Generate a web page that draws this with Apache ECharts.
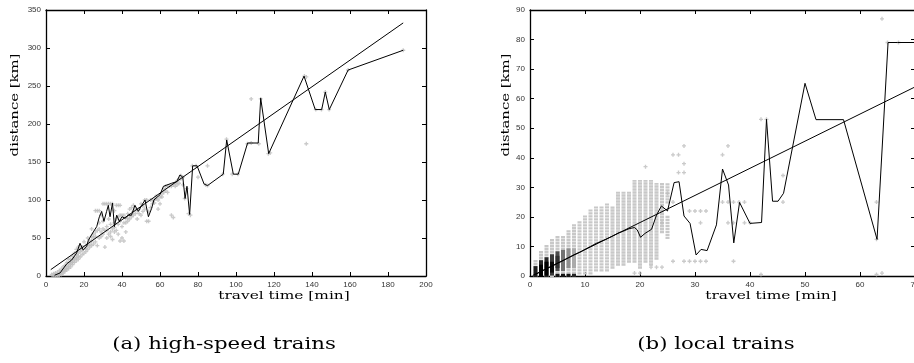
<!DOCTYPE html>
<html><head><meta charset="utf-8">
<script src="https://cdn.jsdelivr.net/npm/echarts@6/dist/echarts.min.js"></script>
<style>html,body{margin:0;padding:0;background:#fff;overflow:hidden}#c{width:914px;height:363px}</style>
</head><body><div id="c"></div>
<script>
// ---------- axis ranges [min, max, interval] ----------
const hsXRange = [0, 200, 20];
const hsYRange = [0, 350, 50];
const locXRange = [0, 70, 10];
const locYRange = [0, 90, 10];

// ---------- (a) high-speed trains ----------
// individual trips: [travel time min, distance km]
const hsTrips = [
[3,2],[4,0],[4,3],[5,1],[5,4],[6,0],[6,2],[6,5],[7,1],[7,3],[7,7],[8,2],[8,5],[8,9],[9,4],[9,6],[9,8],[9,12],
[10,6],[10,8],[10,10],[10,14],[11,8],[11,10],[11,13],[11,18],[12,10],[12,13],[12,16],[12,22],[13,12],[13,16],[13,18],[13,22],[14,15],
[14,18],[14,20],[14,26],[15,18],[15,22],[15,24],[15,30],[16,20],[16,24],[16,28],[16,35],[17,22],[17,26],[17,30],[17,38],[18,25],[18,32],
[18,36],[18,40],[19,28],[19,34],[19,38],[20,30],[20,38],[20,45],[21,32],[21,36],[21,40],[22,35],[22,40],[22,42],[22,50],[23,38],[23,42],[23,46],
[24,40],[24,46],[24,52],[24,62],[25,42],[25,50],[25,55],[26,45],[26,52],[26,58],[26,86],[27,40],[27,60],[27,86],[28,50],[28,62],[28,70],
[28,86],[29,52],[29,58],[29,80],[30,55],[30,62],[30,72],[30,95],[31,38],[31,60],[31,95],[32,50],[32,60],[32,65],[32,95],
[33,55],[33,75],[33,95],[34,52],[34,58],[34,68],[34,95],[35,48],[35,62],[35,95],[36,58],[36,64],[36,70],[36,86],[37,60],
[37,75],[37,93],[38,55],[38,68],[38,78],[38,93],[39,46],[39,72],[39,80],[39,93],[40,50],[40,65],[40,80],[41,46],[41,70],[41,80],
[42,58],[42,70],[42,76],[43,72],[43,76],[43,82],[44,75],[44,80],[44,88],[45,78],[45,90],[46,80],[46,85],[46,93],[47,82],[47,88],[48,75],[48,86],
[49,82],[49,88],[50,80],[50,95],[51,85],[51,92],[52,88],[52,100],[53,72],[53,100],[54,72],[54,85],[55,90],[55,100],[56,95],[56,100],
[57,96],[57,100],[58,102],[58,105],[59,88],[59,100],[60,95],[60,104],[61,104],[61,108],[62,110],[62,115],[63,112],[63,118],[64,110],[64,118],[65,118],[66,80],[66,118],[67,77],
[67,120],[68,118],[68,122],[69,120],[69,125],[70,122],[70,128],[71,128],[71,132],[72,120],[72,130],[73,102],[74,115],[75,82],[76,80],[77,145],
[79,145],[80,130],[85,145],[84,120],[85,119],[93,134],[95,180],[98,134],[101,134],[106,174],[108,233],
[108,175],[112,174],[113,233],[117,161],[118,162],[136,263],[137,174],[137,262],[142,219],[145,219],
[147,242],[149,219],[159,271],[188,297]
];
// mean distance per travel time
const hsMean = [
[4.5,1],[7.4,4],[10.9,16],[13.5,21],[16.1,30],[17.9,43],[19.6,34],[21.4,39],[22.3,47],[24.9,58],[26.7,65],
[28.1,78],[29.3,85],[30.5,72],[31.9,85],[32.8,93],[33.7,78],[35,96],[36,65],[37.2,80],[38.6,72],[40,78],
[41.6,76],[43.3,80],[45,80],[46.8,93],[48.6,85],[50.4,93],[52.1,100],[53.9,78],[55.6,89],[56.8,100],
[60,107],[61.8,118],[66.1,122],[68.8,124],[70.5,133],[72,130],[73.2,102],[74.2,118],[75.6,81],[77.2,145],
[79.5,145],[83.2,121],[85,119],[93.3,134],[95.1,179],[98.6,134],[101.2,134],[106.1,175],[108.2,175],
[111.7,175],[113,234],[117.2,161],[135.8,263],[141.7,219],[145.1,219],[147,242],[149.1,219],[159,271],[188,297]
];
// linear fit
const hsFit = [[2.5,8.4],[188,333]];

// ---------- (b) local trains ----------
// columns of trips per travel time: [min, lowest km, highest km]
const locColumns = [
[1,0,5],[2,0,8],[3,0,10],[4,0,12],[5,0,13],[6,0,13],[7,0,15],[8,0,17],[9,1,18],[10,1,20],[11,1,22],
[12,2,23],[13,2,23],[14,2,24],[15,3,23],[16,4,28],[17,4,28],[18,5,28],[19,5,32],[20,3,32],[21,5,32],
[22,4,32],[23,6,31],[24,15,31],[25,25,31],[25,13,20]
];
// high-density cores: [min, lowest km, highest km, relative density 0..1]
const locDense = [
[1,0,3,0.85],[2,0,5,0.8],[2,0,3.5,1],[3,0,6,0.8],[3,0.5,4.5,1],[4,0.5,7,0.7],[4,1.5,4.5,0.95],
[5,2,8,0.6],[5,3,6.5,0.75],[6,2,8.5,0.4],[7,3,9,0.25],[8,3,9,0.1],
[5,0,0.4,0.9],[6,0,0.4,0.9],[7,0,0.4,0.9],[8,0,0.4,0.8]
];
// isolated trips
const locTrips = [
[19,1],[20,1],[22,3],[23,3],[24,3],[21,37],[24,22],[24,18],[25,28],[26,41],[26,5],[26,25],[27,35],[27,41],
[28,44],[28,38],[28,35],[28,5],[29,5],[29,22],[30,5],[30,22],[31,5],[31,18],[31,22],[32,5],[32,22],
[35,41],[35,25],[36,44],[36,25],[36,18],[37,25],[37,18],[37,5],[38,25],[39,25],[39,18],[40,18],[42,53],
[42,0.5],[43,53],[46,34],[46,25],[63,25],[63,0.5],[64,1],[63,12.4],[64,87],[65,79],[67,79]
];
const locMean = [
[1,0.5],[2,1.5],[3,2.5],[4,3.3],[5,4.3],[6,5.2],[7,6.2],[8,7.2],[9,8],[10,9],[11,10],[12,11],[13,11.8],
[14,12.6],[15,13.5],[16,14.5],[17,15.2],[18,16],[19,16.4],[19.5,15.6],[20.1,13.1],[20.9,14.4],[22.1,15.8],
[23,20.6],[23.9,23.7],[25,22],[26.2,31.6],[27.1,31.9],[28,20.3],[29.1,17.8],[30.2,7.1],[31.1,9],[32.2,8.6],
[33.9,17.3],[35,36.2],[36.1,30.8],[37.05,11.2],[38.1,24.9],[40,17.8],[42.1,18.1],[43,53],[44.1,25.3],
[45.1,25.3],[46.1,28],[50,65.2],[52,52.9],[57,52.9],[63.1,12.4],[65.1,79],[66.8,79],[72,79]
];
const locFit = [[0.5,0.2],[72,65.8]];

const captions = ['(a) high-speed trains', '(b) local trains'];
const xTitle = 'travel time [min]';
const yTitle = 'distance [km]';

// ---------- styling ----------
const lblFont = {fontFamily:'Liberation Sans', fontSize:8, color:'#333'};
const PLUS = 'path://M1,0h1v1h1v1h-1v1h-1v-1h-1v-1h1z';
const GRAY = '#bdbdbd';

function axisPair(range, gridIndex, isX) {
  const base = {
    gridIndex, type:'value', min:range[0], max:range[1], interval:range[2],
    axisLine:{show:true, onZero:false, lineStyle:{color:'#000', width:1.3}},
    axisTick:{show:true, inside:true, length:4, lineStyle:{color:'#000', width:1}},
    splitLine:{show:false}
  };
  const main = Object.assign({}, base, {
    position: isX ? 'bottom' : 'left',
    axisLabel: Object.assign({show:true, margin:5}, lblFont)
  });
  const mirror = Object.assign({}, base, {
    position: isX ? 'top' : 'right',
    axisLabel:{show:false}
  });
  return [main, mirror];
}

const chart = echarts.init(document.getElementById('c'), null, {renderer:'canvas'});

const hsX = axisPair(hsXRange, 0, true), hsY = axisPair(hsYRange, 0, false);
const lcX = axisPair(locXRange, 1, true), lcY = axisPair(locYRange, 1, false);

function colRender(params, api) {
  const t = api.value(0), lo = api.value(1), hi = api.value(2);
  const p1 = api.coord([t, lo]), p2 = api.coord([t, hi]);
  return {type:'line', shape:{x1:p1[0], y1:p1[1]+1.5, x2:p2[0], y2:p2[1]-1.5},
          style:{stroke:'#c8c8c8', lineWidth:4, lineDash:[2.4,0.6]}};
}
function denseRender(params, api) {
  const t = api.value(0), lo = api.value(1), hi = api.value(2), dens = api.value(3);
  const p1 = api.coord([t, lo]), p2 = api.coord([t, hi]);
  const g = Math.round(190 * (1 - dens));
  return {type:'line', shape:{x1:p1[0], y1:p1[1]+1, x2:p2[0], y2:p2[1]-1},
          style:{stroke:'rgb('+g+','+g+','+g+')', lineWidth:4}};
}

const serifTitle = {fontFamily:'DejaVu Serif', fontSize:11, fill:'#000'};

chart.setOption({
  animation:false,
  backgroundColor:'#fff',
  grid:[
    {left:46, top:10, width:380, height:266, outerBoundsMode:'none', containLabel:false},
    {left:530, top:10, width:385, height:266, outerBoundsMode:'none', containLabel:false}
  ],
  xAxis:[hsX[0], hsX[1], lcX[0], lcX[1]],
  yAxis:[hsY[0], hsY[1], lcY[0], lcY[1]],
  series:[
    {type:'scatter', xAxisIndex:0, yAxisIndex:0, data:hsTrips, symbol:PLUS, symbolSize:4,
     itemStyle:{color:GRAY}, silent:true, z:1},
    {type:'line', xAxisIndex:0, yAxisIndex:0, data:hsMean, showSymbol:false, symbol:'none',
     lineStyle:{color:'#000', width:1}, z:3},
    {type:'line', xAxisIndex:0, yAxisIndex:0, data:hsFit, showSymbol:false, symbol:'none',
     lineStyle:{color:'#000', width:1}, z:3},

    {type:'custom', xAxisIndex:2, yAxisIndex:2, data:locColumns, renderItem:colRender,
     encode:{x:0, y:[1,2]}, silent:true, z:1},
    {type:'custom', xAxisIndex:2, yAxisIndex:2, data:locDense, renderItem:denseRender,
     encode:{x:0, y:[1,2]}, silent:true, z:2},
    {type:'scatter', xAxisIndex:2, yAxisIndex:2, data:locTrips, symbol:PLUS, symbolSize:4,
     itemStyle:{color:GRAY}, silent:true, z:1},
    {type:'line', xAxisIndex:2, yAxisIndex:2, data:locMean, showSymbol:false, symbol:'none',
     lineStyle:{color:'#000', width:1}, z:3},
    {type:'line', xAxisIndex:2, yAxisIndex:2, data:locFit, showSymbol:false, symbol:'none',
     lineStyle:{color:'#000', width:1}, z:3}
  ],
  graphic:[
    {type:'text', x:15, y:105, rotation:Math.PI/2, scaleX:1.35, style:Object.assign({text:yTitle, align:'center', verticalAlign:'middle'}, serifTitle)},
    {type:'text', x:506, y:105, rotation:Math.PI/2, scaleX:1.35, style:Object.assign({text:yTitle, align:'center', verticalAlign:'middle'}, serifTitle)},
    {type:'text', x:284, y:296, scaleX:1.4, style:Object.assign({text:xTitle, align:'center', verticalAlign:'middle'}, serifTitle)},
    {type:'text', x:771, y:296, scaleX:1.4, style:Object.assign({text:xTitle, align:'center', verticalAlign:'middle'}, serifTitle)},
    {type:'text', x:224, y:345, scaleX:1.25, style:{text:captions[0], align:'center', verticalAlign:'middle', fontFamily:'DejaVu Serif', fontSize:17, fill:'#000'}},
    {type:'text', x:716, y:345, scaleX:1.25, style:{text:captions[1], align:'center', verticalAlign:'middle', fontFamily:'DejaVu Serif', fontSize:17, fill:'#000'}}
  ]
});
</script>
</body></html>
